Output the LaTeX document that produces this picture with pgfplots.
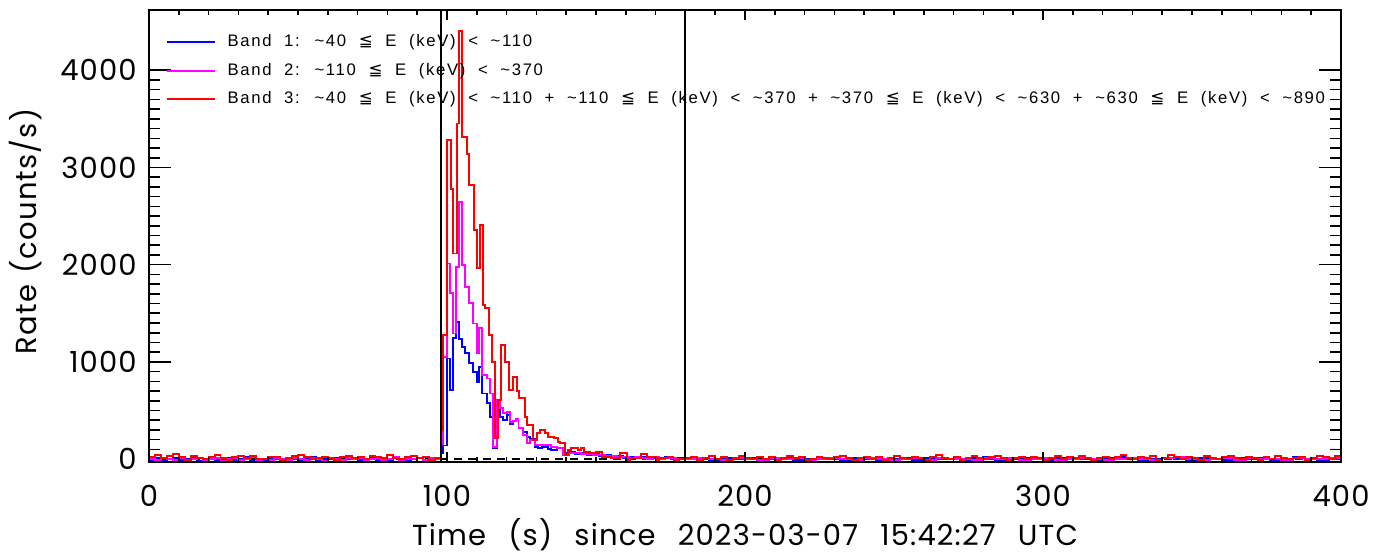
\documentclass[border=0pt]{standalone}
\usepackage{fontspec}
\setmainfont{Poppins}[LetterSpace=4, WordSpace=2.5]
\newfontfamily\ylabfont{Poppins}[LetterSpace=4, WordSpace=1.3]
\newfontfamily\legfont{Liberation Sans}[LetterSpace=10, WordSpace=2]
\newfontfamily\symfont{DejaVu Sans}
\usepackage{pgfplots}
\pgfplotsset{compat=1.18}
\usepackage{pgfplotstable}

\definecolor{bandblue}{RGB}{0,0,255}
\definecolor{bandmag}{RGB}{255,0,255}
\definecolor{bandred}{RGB}{255,0,0}

\newcommand{\tld}{\textasciitilde}
\newcommand{\leqq}{{\symfont ≦}}

% band 1 (blue)
\pgfplotstableread{
t v
0 -5
2 10
4 -15
6 5
8 15
10 -10
12 0
14 10
16 -20
18 5
20 15
22 -5
24 0
26 10
28 -10
30 5
32 20
34 -5
36 0
38 -15
40 10
42 5
44 -10
46 15
48 0
50 -5
52 10
54 25
56 -10
58 5
60 0
62 15
64 -15
66 5
68 10
70 -5
72 0
74 20
76 -10
78 5
80 -5
82 10
84 0
86 -15
88 5
90 15
92 -5
94 0
96 10
98.0 60
98.8 140
99.9 1035
101.0 710
102.1 1241
103.0 1412
104.1 1240
105.0 1155
106.1 1087
107.3 984
108.8 898
110.0 795
110.8 949
111.9 675
113.3 573
114.4 435
115.5 110
116.9 538
117.8 435
118.9 401
120.0 452
121.0 365
122.0 390
123.0 410
124.0 315
125.5 280
127.0 230
128.0 210
129.5 124
130.6 110
132.0 125
134.0 105
135.0 90
137.0 110
139.0 60
141.0 70
143.0 55
145.0 65
147.0 45
149.0 50
151.0 35
153.0 40
155.0 25
157.0 30
159.0 15
161.0 20
163.0 10
165.0 25
167.0 5
169.0 15
171.0 10
173.0 20
175.0 5
177.0 15
180 15
184 5
188 -10
192 10
196 0
200 15
204 -5
208 5
212 10
216 -10
220 0
224 15
228 5
232 -5
236 10
240 0
244 -15
248 5
252 10
256 -5
260 15
264 0
268 5
272 -10
276 10
280 20
284 -5
288 0
292 10
296 5
300 -10
304 15
308 0
312 5
316 -5
320 10
324 20
328 0
332 -10
336 5
340 15
344 0
348 -5
352 10
356 5
360 -10
364 15
368 0
372 10
376 -5
380 5
384 20
388 0
392 -5
396 10
400 10
}\bandone

% band 2 (magenta)
\pgfplotstableread{
t v
0 5
2 -10
4 10
6 0
8 -5
10 15
12 -10
14 5
16 10
18 -5
20 0
22 15
24 -15
26 5
28 10
30 -5
32 0
34 20
36 -10
38 5
40 -5
42 10
44 0
46 -10
48 15
50 5
52 -5
54 10
56 0
58 -15
60 10
62 5
64 -5
66 15
68 0
70 10
72 -10
74 5
76 15
78 -5
80 0
82 20
84 -10
86 5
88 0
90 10
92 -5
94 15
96 5
98.0 150
98.8 1052
99.9 2012
101.0 1704
102.1 1292
103.0 1978
104.1 2646
105.0 2000
106.1 1772
107.3 1601
108.8 1395
110.0 1087
110.8 1344
111.9 864
113.3 829
114.4 675
115.5 127
116.9 607
117.8 521
118.9 470
120.0 480
121.0 380
122.0 390
123.0 410
124.0 315
125.5 250
127.0 170
128.0 200
129.5 144
130.6 144
135.0 125
137.0 110
139.0 41
141.0 60
143.0 65
145.0 50
147.0 55
149.0 40
151.0 45
153.0 30
155.0 35
157.0 20
159.0 25
161.0 10
163.0 20
165.0 15
167.0 0
169.0 20
171.0 5
173.0 10
175.0 15
177.0 0
180 5
184 10
188 0
192 -10
196 15
200 5
204 -5
208 10
212 0
216 15
220 -10
224 5
228 10
232 0
236 -5
240 15
244 5
248 -10
252 0
256 10
260 -5
264 15
268 0
272 5
276 -5
280 10
284 0
288 15
292 -10
296 5
300 10
304 -5
308 0
312 15
316 5
320 -10
324 5
328 10
332 0
336 -5
340 10
344 20
348 0
352 -10
356 5
360 10
364 -5
368 15
372 0
376 5
380 -10
384 10
388 5
392 0
396 15
400 15
}\bandtwo

% band 3 (red)
\pgfplotstableread{
t v
0 25
2 40
4 15
6 30
8 55
10 20
12 -5
14 30
16 15
18 5
20 25
22 45
24 10
26 -10
28 20
30 35
32 15
34 30
36 5
38 0
40 25
42 20
44 -10
46 15
48 30
50 45
52 20
54 5
56 15
58 25
60 10
62 -5
64 20
66 35
68 15
70 25
72 5
74 30
76 20
78 10
80 40
82 15
84 0
86 25
88 35
90 10
92 20
94 -10
96 15
98.0 300
98.8 1275
100.0 3280
101.3 2783
102.1 2115
103.2 3452
103.9 4400
105.0 3314
106.6 3143
107.5 2817
109.2 2355
110.0 1961
111.1 2406
112.0 1584
112.9 1550
114.0 1275
115.0 1001
116.1 213
117.2 607
118.0 1172
119.5 1001
120.9 710
122.3 847
123.4 700
124.2 624
126.1 435
126.9 350
128.9 195
130.1 264
131.2 298
133.0 264
134.0 230
136.0 215
137.4 178
138.0 161
139.5 40
140.6 93
141.7 110
144.0 93
145.0 110
146.0 70
148.0 60
150.0 70
152.0 24
155.0 7
158.0 58
160.5 -10
161.5 7
165.0 51
167.0 24
170.0 -10
171.0 7
174.0 20
176.0 -5
178.0 5
180 10
182 25
184 -5
186 15
188 30
190 5
192 20
194 -10
196 15
198 35
200 10
202 0
204 20
206 5
208 25
210 -5
212 15
214 30
216 10
218 20
220 -10
222 5
224 25
226 15
228 0
230 20
232 35
234 10
236 -5
238 15
240 25
242 5
244 20
246 -10
248 10
250 30
252 15
254 0
256 20
258 10
260 -5
262 25
264 40
266 15
268 5
270 20
272 -5
274 10
276 30
278 15
280 0
282 20
284 35
286 10
288 -10
290 15
292 25
294 5
296 20
298 10
300 -5
302 15
304 30
306 5
308 20
310 10
312 35
314 15
316 -5
318 10
320 25
322 5
324 20
326 45
328 15
330 0
332 20
334 10
336 30
338 -5
340 15
342 40
344 20
346 5
348 25
350 10
352 -5
354 30
356 15
358 5
360 20
362 35
364 10
366 0
368 25
370 15
372 -10
374 20
376 5
378 30
380 15
382 0
384 10
386 25
388 -5
390 15
392 35
394 20
396 5
398 30
400 30
}\bandthree

\pgfplotsset{
  lcbase/.style={
    scale only axis, width=238.4mm, height=90.4mm,
    xmin=0, xmax=400, ymin=-30, ymax=4620,
    axis line style={line width=1.2pt},
    tick style={line width=0.9pt, black},
    /pgf/number format/assume math mode=true,
    /pgf/number format/set thousands separator={},
    tick label style={font=\fontsize{16.5}{19}\selectfont},
  },
}

\begin{document}
\begin{tikzpicture}
\begin{axis}[lcbase, name=ax,
  xtick=\empty,
  ytick={0,1000,2000,3000,4000}, minor y tick num=9,
  major tick length=4.4mm, minor tick length=2.2mm,
  yticklabel style={anchor=east, inner sep=0pt, xshift=-2.4mm},
  ylabel={Rate (counts/s)},
  ylabel style={at={(axis description cs:-0.094,0.51)}, anchor=base,
    inner sep=0pt, font=\ylabfont\fontsize{16.5}{19}\selectfont},
  legend style={at={(axis description cs:0.0093,0.956)}, anchor=north west,
    draw=none, fill=none, font=\legfont\fontsize{9.5}{11}\selectfont,
    row sep=2.3mm, nodes={inner sep=0pt, text height=2.6mm, text depth=0.8mm}},
  legend cell align=left,
  legend image code/.code={\draw[#1] (0mm,0mm) -- (9.6mm,0mm);},
]
\addplot[black, dashed, dash pattern=on 1.6mm off 1.3mm, line width=0.9pt, forget plot]
  coordinates {(0,0) (400,0)};
\addplot[bandblue, line width=1.1pt, const plot mark left] table[x=t, y=v] {\bandone};
\addplot[bandmag, line width=1.1pt, const plot mark left] table[x=t, y=v] {\bandtwo};
\addplot[bandred, line width=1.1pt, const plot mark left] table[x=t, y=v] {\bandthree};
\addplot[black, line width=1.2pt, forget plot] coordinates {(98,-30) (98,4620)};
\addplot[black, line width=1.2pt, forget plot] coordinates {(180,-30) (180,4620)};
\addlegendentry{\hspace{2.4mm}Band 1: \tld40 \leqq{} E (keV) < \tld110}
\addlegendentry{\hspace{2.4mm}Band 2: \tld110 \leqq{} E (keV) < \tld370}
\addlegendentry{\hspace{2.4mm}Band 3: \tld40 \leqq{} E (keV) < \tld110 + \tld110 \leqq{} E (keV) < \tld370 + \tld370 \leqq{} E (keV) < \tld630 + \tld630 \leqq{} E (keV) < \tld890}
\end{axis}
\begin{axis}[lcbase,
  ytick=\empty,
  xtick={0,100,200,300,400}, minor x tick num=9,
  major tick length=2mm, minor tick length=1mm,
  xticklabel style={anchor=base, inner sep=0pt, yshift=-8.8mm},
  xlabel={Time (s) since 2023-03-07 15:42:27 UTC},
  xlabel style={at={(axis description cs:0.5,-0.1858)}, anchor=base,
    inner sep=0pt, font=\fontsize{16.5}{19}\selectfont},
]
\end{axis}
\pgfresetboundingbox
\path ([shift={(-29.8mm,-19mm)}]ax.south west) rectangle ([shift={(9.2mm,2mm)}]ax.north east);
\end{tikzpicture}
\end{document}
